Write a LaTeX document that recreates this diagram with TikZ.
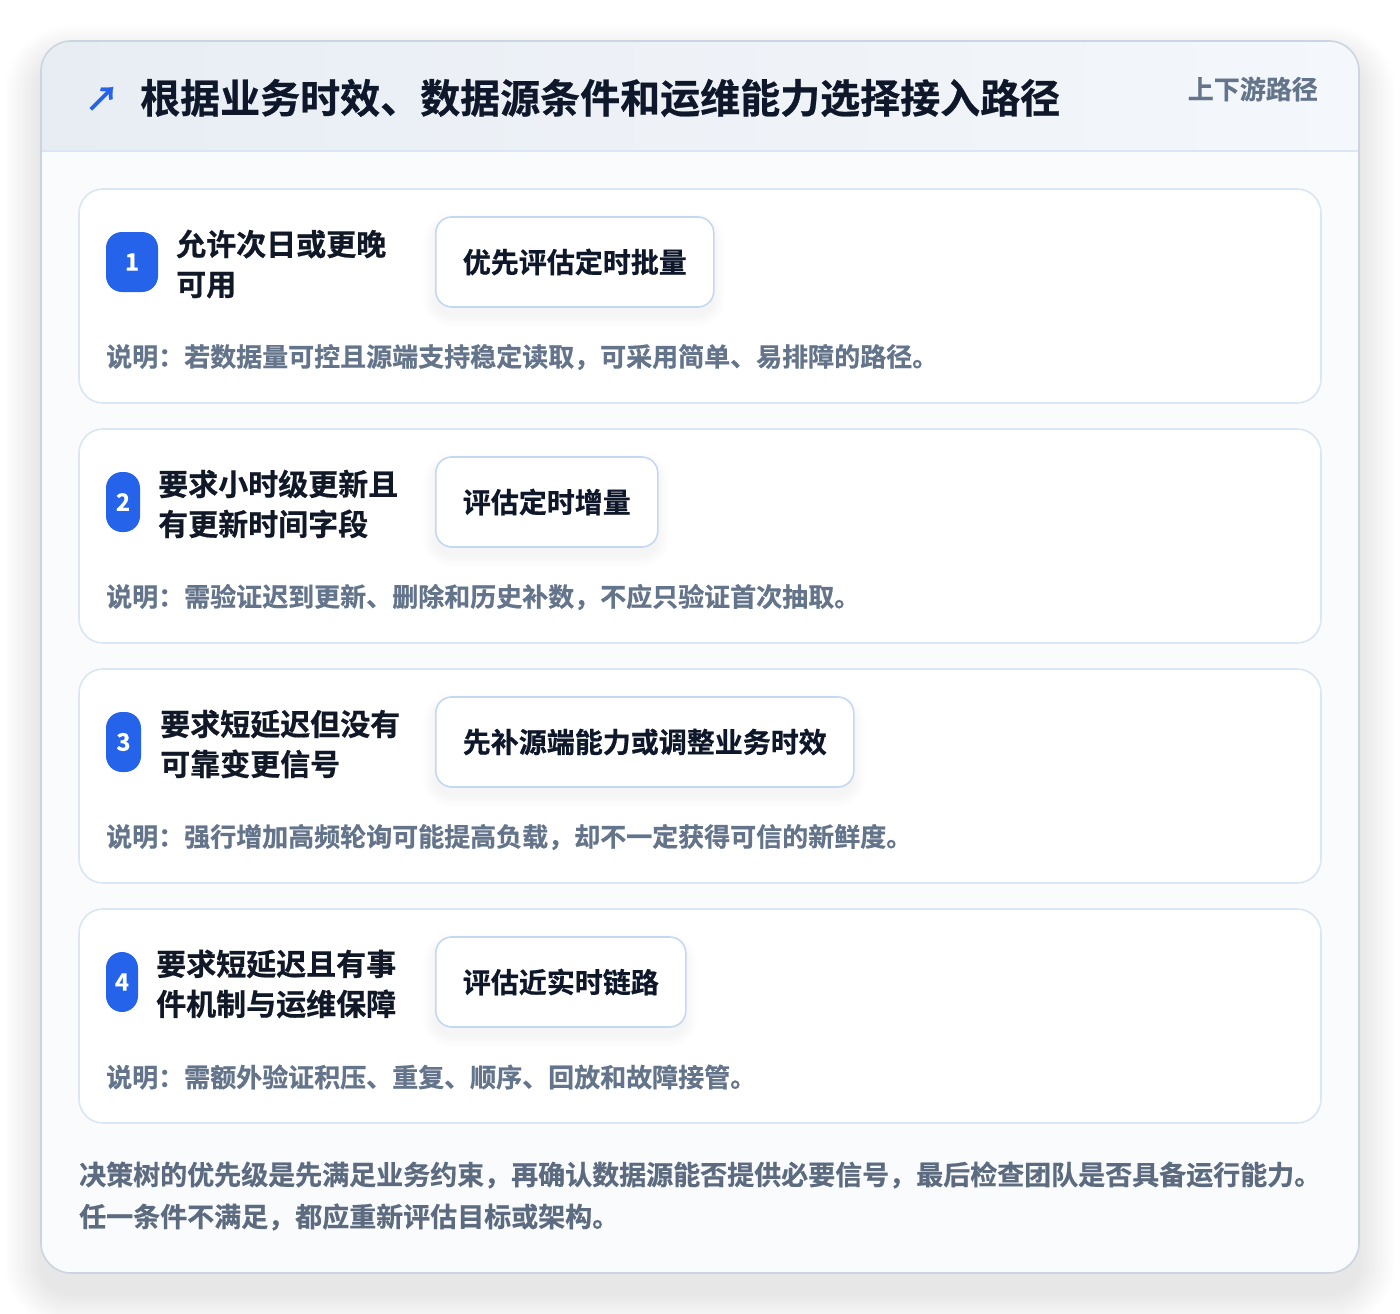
\documentclass[tikz,border=0pt]{standalone}
\usepackage{fontspec}
\setmainfont{Noto Sans CJK SC}[BoldFont={Noto Sans CJK SC Bold},BoldFeatures={FakeBold=0.6}]
\definecolor{accent}{HTML}{2563EB}
\definecolor{titlec}{HTML}{0F172A}
\definecolor{condc}{HTML}{111827}
\definecolor{explc}{HTML}{64748B}
\definecolor{footc}{HTML}{5C6B80}
\definecolor{headL}{HTML}{E8EDF4}
\definecolor{headR}{HTML}{F4F7FB}
\definecolor{bodyc}{HTML}{FAFBFD}
\definecolor{cardline}{HTML}{DBE6F5}
\definecolor{resline}{HTML}{C5D8F2}
\definecolor{outline}{HTML}{CBD5E1}
\newcommand\myboxshadow[4]{%
  \foreach \i in {1,...,10}{%
    \fill[black,opacity=0.005,rounded corners={16pt+1.2pt*\i}]
      ({#1-1.2*\i},{#2+8-1.2*\i}) rectangle ({#3+1.2*\i},{#4+8+1.2*\i});}}
\begin{document}
\begin{tikzpicture}[x=1pt,y=-1pt,
  cardbox/.style={fill=white,draw=cardline,line width=1.6pt,rounded corners=24pt},
  badge/.style={fill=accent,text=white,rounded corners=16pt,minimum height=60pt,inner sep=0pt,font=\bfseries\fontsize{24}{28}\selectfont},
  cond/.style={anchor=west,inner sep=0pt,align=left,text=condc,font=\bfseries\fontsize{30}{40}\selectfont},
  resbox/.style={anchor=west,fill=white,draw=resline,line width=1.6pt,rounded corners=16pt,minimum height=90pt,inner xsep=27pt,inner ysep=0pt,text=titlec,font=\bfseries\fontsize{28}{32}\selectfont},
  expl/.style={anchor=west,inner sep=0pt,text=explc,font=\bfseries\fontsize{26}{30}\selectfont},
  foot/.style={anchor=west,inner sep=0pt,text=footc,font=\bfseries\fontsize{27}{42}\selectfont}]
\useasboundingbox (0,0) rectangle (1400,1314);
\fill[white] (0,0) rectangle (1400,1314);
% outer shadow
\foreach \i in {1,...,24}{%
  \fill[black,opacity=0.005,rounded corners={30pt+1.5pt*\i}]
    ({41-1.5*\i},{61-1.5*\i}) rectangle ({1359+1.5*\i},{1293+1.5*\i});}
% outer card
\fill[bodyc,rounded corners=30pt] (41,41) rectangle (1359,1273);
\begin{scope}
  \clip[rounded corners=30pt] (41,41) rectangle (1359,1273);
  \shade[left color=headL,right color=headR] (41,41) rectangle (1359,151);
\end{scope}
\draw[cardline,line width=1.6pt] (41,151) -- (1359,151);
\draw[outline,line width=1.6pt,rounded corners=30pt] (41,41) rectangle (1359,1273);
% header
\node[anchor=center,inner sep=0pt,text=accent,font=\bfseries\fontsize{34}{36}\selectfont] (icon) at (102,99) {↗};
\node[anchor=west,inner sep=0pt,text=titlec,font=\bfseries\fontsize{40}{44}\selectfont] (title) at (140,98) {根据业务时效、数据源条件和运维能力选择接入路径};
\node[anchor=east,inner sep=0pt,text=explc,font=\bfseries\fontsize{26}{30}\selectfont] (tag) at (1318,89) {上下游路径};
% cards
\draw[cardbox] (79,189) rectangle (1321,403);
\draw[cardbox] (79,429) rectangle (1321,643);
\draw[cardbox] (79,669) rectangle (1321,883);
\draw[cardbox] (79,909) rectangle (1321,1123);
% result shadows
\myboxshadow{435}{217}{713}{307}
\myboxshadow{435}{457}{657}{547}
\myboxshadow{435}{697}{853}{787}
\myboxshadow{435}{937}{685}{1027}
% card 1
\node[badge,minimum width=52pt] (b1) at (132,262) {1};
\node[cond] (c1) at (176,264) {允许次日或更晚\\可用};
\node[resbox] (r1) at (435,262) {优先评估定时批量};
\node[expl] (e1) at (106,357) {说明：若数据量可控且源端支持稳定读取，可采用简单、易排障的路径。};
% card 2
\node[badge,minimum width=34pt] (b2) at (123,502) {2};
\node[cond] (c2) at (158,504) {要求小时级更新且\\有更新时间字段};
\node[resbox] (r2) at (435,502) {评估定时增量};
\node[expl] (e2) at (106,597) {说明：需验证迟到更新、删除和历史补数，不应只验证首次抽取。};
% card 3
\node[badge,minimum width=35pt] (b3) at (123.5,742) {3};
\node[cond] (c3) at (160,744) {要求短延迟但没有\\可靠变更信号};
\node[resbox] (r3) at (435,742) {先补源端能力或调整业务时效};
\node[expl] (e3) at (106,837) {说明：强行增加高频轮询可能提高负载，却不一定获得可信的新鲜度。};
% card 4
\node[badge,minimum width=32pt] (b4) at (122,982) {4};
\node[cond] (c4) at (156,984) {要求短延迟且有事\\件机制与运维保障};
\node[resbox] (r4) at (435,982) {评估近实时链路};
\node[expl] (e4) at (106,1077) {说明：需额外验证积压、重复、顺序、回放和故障接管。};
% footer
\node[foot] (f1) at (79,1175) {决策树的优先级是先满足业务约束，再确认数据源能否提供必要信号，最后检查团队是否具备运行能力。};
\node[foot] (f2) at (79,1217) {任一条件不满足，都应重新评估目标或架构。};
\end{tikzpicture}
\end{document}
